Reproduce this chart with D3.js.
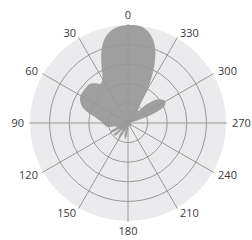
<!DOCTYPE html>
<html>
<head>
<meta charset="utf-8">
<script src="https://cdn.jsdelivr.net/npm/d3@7"></script>
<style>
  body { margin: 0; background: #ffffff; }
  svg { display: block; }
</style>
</head>
<body>
<svg></svg>
<script>
// angles in degrees, counter-clockwise from top
var angles = d3.range(0, 360, 5)
// relative gain, 1 = outer edge
var gain = [1.00, 0.99, 0.96, 0.90, 0.79, 0.64, 0.52, 0.49, 0.53, 0.56, 0.56, 0.56,
            0.56, 0.54, 0.50, 0.43, 0.34, 0.29, 0.26, 0.24, 0.22, 0.14, 0.12, 0.20,
            0.18, 0.10, 0.19, 0.18, 0.09, 0.16, 0.19, 0.12, 0.08, 0.14, 0.17, 0.12,
            0.06, 0.04, 0.03, 0.03, 0.03, 0.03, 0.03, 0.03, 0.04, 0.05, 0.04, 0.03,
            0.03, 0.03, 0.03, 0.03, 0.03, 0.03, 0.03, 0.03, 0.04, 0.10, 0.28, 0.41,
            0.44, 0.42, 0.37, 0.27, 0.16, 0.20, 0.40, 0.63, 0.81, 0.92, 0.98, 1.00]
var ringTicks = [0.2, 0.4, 0.6, 0.8]
var spokeAngles = [0, 30, 60, 90, 120, 150, 180, 210, 240, 270, 300, 330]
var spokeLabels = ['0', '30', '60', '90', '120', '150', '180', '210', '240', '270', '300', '330']

var svgWidth = 252, svgHeight = 240
var cx = 128, cy = 123, outerR = 98

var svg = d3.select('svg')
    .attr('width', svgWidth)
    .attr('height', svgHeight)

var g = svg.append('g')
    .attr('transform', 'translate(' + cx + ',' + cy + ')')

var rScale = d3.scaleLinear()
    .domain([0, 1])
    .range([0, outerR])

// ccw from top -> d3 radial angle (clockwise from top)
var aScale = d3.scaleLinear()
    .domain([0, 360])
    .range([0, -2 * Math.PI])

// background disk
g.append('circle')
    .attr('r', rScale(1))
    .style('fill', '#ebebed')

// pattern
var pts = angles.map(function(a, i) { return [a, gain[i]] })

var pattern = d3.lineRadial()
    .angle(function(d) { return aScale(d[0]) })
    .radius(function(d) { return rScale(d[1]) })
    .curve(d3.curveCatmullRomClosed.alpha(0.5))

g.append('path')
    .datum(pts)
    .attr('d', pattern)
    .style('fill', '#a09f9f')
    .style('stroke', 'none')

// rings
g.selectAll('.ring')
    .data(ringTicks)
    .enter()
    .append('circle')
    .attr('class', 'ring')
    .attr('r', function(d) { return rScale(d) })
    .style('fill', 'none')
    .style('stroke', '#989898')
    .style('stroke-width', 1)

// spokes
g.selectAll('.spoke')
    .data(spokeAngles)
    .enter()
    .append('line')
    .attr('class', 'spoke')
    .attr('x1', 0).attr('y1', 0)
    .attr('x2', function(d) { return -Math.sin(d * Math.PI / 180) * (rScale(1) + 1) })
    .attr('y2', function(d) { return -Math.cos(d * Math.PI / 180) * (rScale(1) + 1) })
    .style('stroke', '#989898')
    .style('stroke-width', 1)

// labels
var labelR = rScale(1) + 6
function lblR(d) { return (d === 0 || d === 180) ? labelR + 4 : labelR }
g.selectAll('.lbl')
    .data(spokeAngles)
    .enter()
    .append('text')
    .attr('class', 'lbl')
    .text(function(d, i) { return spokeLabels[i] })
    .attr('x', function(d) { return -Math.sin(d * Math.PI / 180) * lblR(d) })
    .attr('y', function(d) { return -Math.cos(d * Math.PI / 180) * lblR(d) })
    .attr('dy', '0.35em')
    .attr('text-anchor', function(d) {
        if (d === 0 || d === 180) return 'middle'
        return d < 180 ? 'end' : 'start'
    })
    .style('font-family', '"Open Sans", sans-serif')
    .style('font-size', '11px')
    .style('fill', '#3a3a3a')
</script>
</body>
</html>
